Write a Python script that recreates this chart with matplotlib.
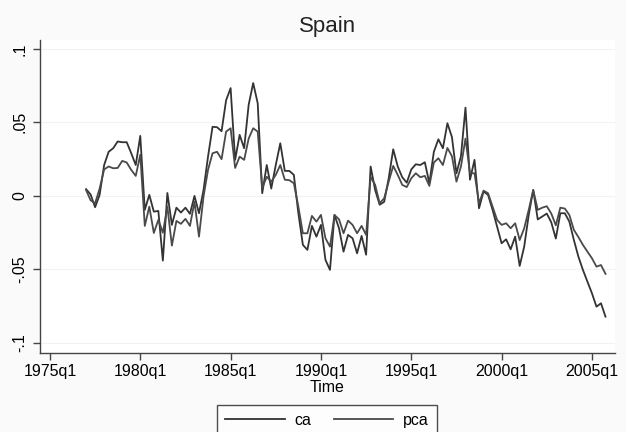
import numpy as np
import matplotlib
matplotlib.use("Agg")
import matplotlib.pyplot as plt

plt.rcParams['font.family'] = ['Liberation Sans', 'DejaVu Sans']

# quarterly data, 1977q1 .. 2005q4 (Stata %tq: 1960q1 = 0)
start_q = 68
ca = [0.0046, 0.001, -0.0077, 0.0007, 0.021, 0.030, 0.0324, 0.037, 0.0365, 0.0365,
      0.029, 0.021, 0.0408, -0.0095, 0.0007, -0.0107, -0.0102, -0.044, 0.002, -0.0197,
      -0.008, -0.0113, -0.008, -0.0122, 0.0, -0.0118, 0.004, 0.0267, 0.047, 0.0467,
      0.044, 0.065, 0.0733, 0.0245, 0.0415, 0.0324, 0.062, 0.0767, 0.063, 0.0018,
      0.021, 0.005, 0.021, 0.0358, 0.017, 0.017, 0.0143, -0.0118, -0.0333, -0.0367,
      -0.0204, -0.0277, -0.0197, -0.0435, -0.0503, -0.0129, -0.022, -0.0379, -0.0265, -0.0288,
      -0.039, -0.0272, -0.040, 0.020, 0.004, -0.006, -0.004, 0.012, 0.0317, 0.020,
      0.0127, 0.009, 0.018, 0.0215, 0.021, 0.0229, 0.0086, 0.030, 0.0385, 0.0324,
      0.0494, 0.040, 0.0154, 0.027, 0.060, 0.011, 0.0245, -0.0084, 0.003, 0.0007,
      -0.0095, -0.0209, -0.0322, -0.0295, -0.0363, -0.0277, -0.0476, -0.0345, -0.013, 0.004,
      -0.016, -0.014, -0.012, -0.018, -0.029, -0.0118, -0.0118, -0.0175, -0.030, -0.0413,
      -0.0503, -0.0583, -0.0662, -0.0753, -0.073, -0.0821]
pca = [0.004, -0.003, -0.005, 0.005, 0.018, 0.020, 0.0188, 0.019, 0.0238, 0.0227,
       0.0177, 0.0136, 0.028, -0.0204, -0.0073, -0.0252, -0.0163, -0.025, -0.0073, -0.0338,
       -0.017, -0.019, -0.0156, -0.0204, -0.004, -0.0277, -0.0005, 0.0177, 0.029, 0.030,
       0.025, 0.0437, 0.046, 0.019, 0.0267, 0.0245, 0.039, 0.046, 0.0437, 0.0054,
       0.013, 0.0097, 0.0143, 0.021, 0.011, 0.0107, 0.0086, -0.0073, -0.0254, -0.0254,
       -0.0136, -0.0175, -0.0129, -0.0288, -0.0345, -0.013, -0.0159, -0.0254, -0.0168, -0.0197,
       -0.0254, -0.0204, -0.0265, 0.013, 0.0075, -0.005, -0.0016, 0.0097, 0.0204, 0.0143,
       0.0075, 0.006, 0.012, 0.0154, 0.0127, 0.0136, 0.0068, 0.0227, 0.0256, 0.021,
       0.0326, 0.027, 0.0097, 0.020, 0.039, 0.0154, 0.0154, -0.005, 0.0036, 0.0018,
       -0.0073, -0.0163, -0.0197, -0.0186, -0.022, -0.0186, -0.030, -0.022, -0.0095, 0.004,
       -0.0095, -0.008, -0.007, -0.012, -0.020, -0.008, -0.0086, -0.013, -0.0231, -0.028,
       -0.0333, -0.0379, -0.0424, -0.0481, -0.047, -0.053]

xticks = [60, 80, 100, 120, 140, 160, 180]
xlabels = ['1975q1', '1980q1', '1985q1', '1990q1', '1995q1', '2000q1', '2005q1']
yticks = [-0.1, -0.05, 0, 0.05, 0.1]
ylabels = ['-.1', '-.05', '0', '.05', '.1']

t = np.arange(start_q, start_q + len(ca))

fig = plt.figure(figsize=(6.26, 4.32), dpi=100, facecolor='#fafafa')
ax = fig.add_axes([0.0639, 0.1829, 0.9185, 0.7245])
ax.set_facecolor('white')

ax.plot(t, ca, color='#333333', lw=1.3, label='ca')
ax.plot(t, pca, color='#4a4a4a', lw=1.3, label='pca')

ax.set_xlim(57.8, 185.1)
ax.set_ylim(-0.1068, 0.106)
ax.set_xticks(xticks)
ax.set_xticklabels(xlabels, fontsize=11.5)
ax.set_yticks(yticks)
ax.set_yticklabels(ylabels, fontsize=11.5, rotation=90, va='center')
ax.grid(axis='y', color='#f2f2f2', lw=0.8)
ax.set_axisbelow(True)

for s in ['top', 'right']:
    ax.spines[s].set_visible(False)
for s in ['left', 'bottom']:
    ax.spines[s].set_color('#444444')
    ax.spines[s].set_linewidth(1.0)
ax.tick_params(direction='out', length=5, width=1.0, color='#444444', pad=3)
ax.tick_params(axis='y', pad=4)

ax.set_xlabel('Time', fontsize=11.5, labelpad=1)
fig.text(0.523, 0.938, 'Spain', fontsize=16, ha='center', va='center', color='#222222')

leg = fig.legend(loc='upper center', bbox_to_anchor=(0.5224, 1 - 405 / 432), ncol=2,
                 fontsize=11.5, handlelength=3.7, handletextpad=0.6, columnspacing=1.45,
                 frameon=True, fancybox=False, borderpad=0.5, borderaxespad=0)
leg.get_frame().set_edgecolor('#222222')
leg.get_frame().set_linewidth(1.0)
leg.get_frame().set_facecolor('white')

fig.savefig('out.png', dpi=100, facecolor=fig.get_facecolor())
